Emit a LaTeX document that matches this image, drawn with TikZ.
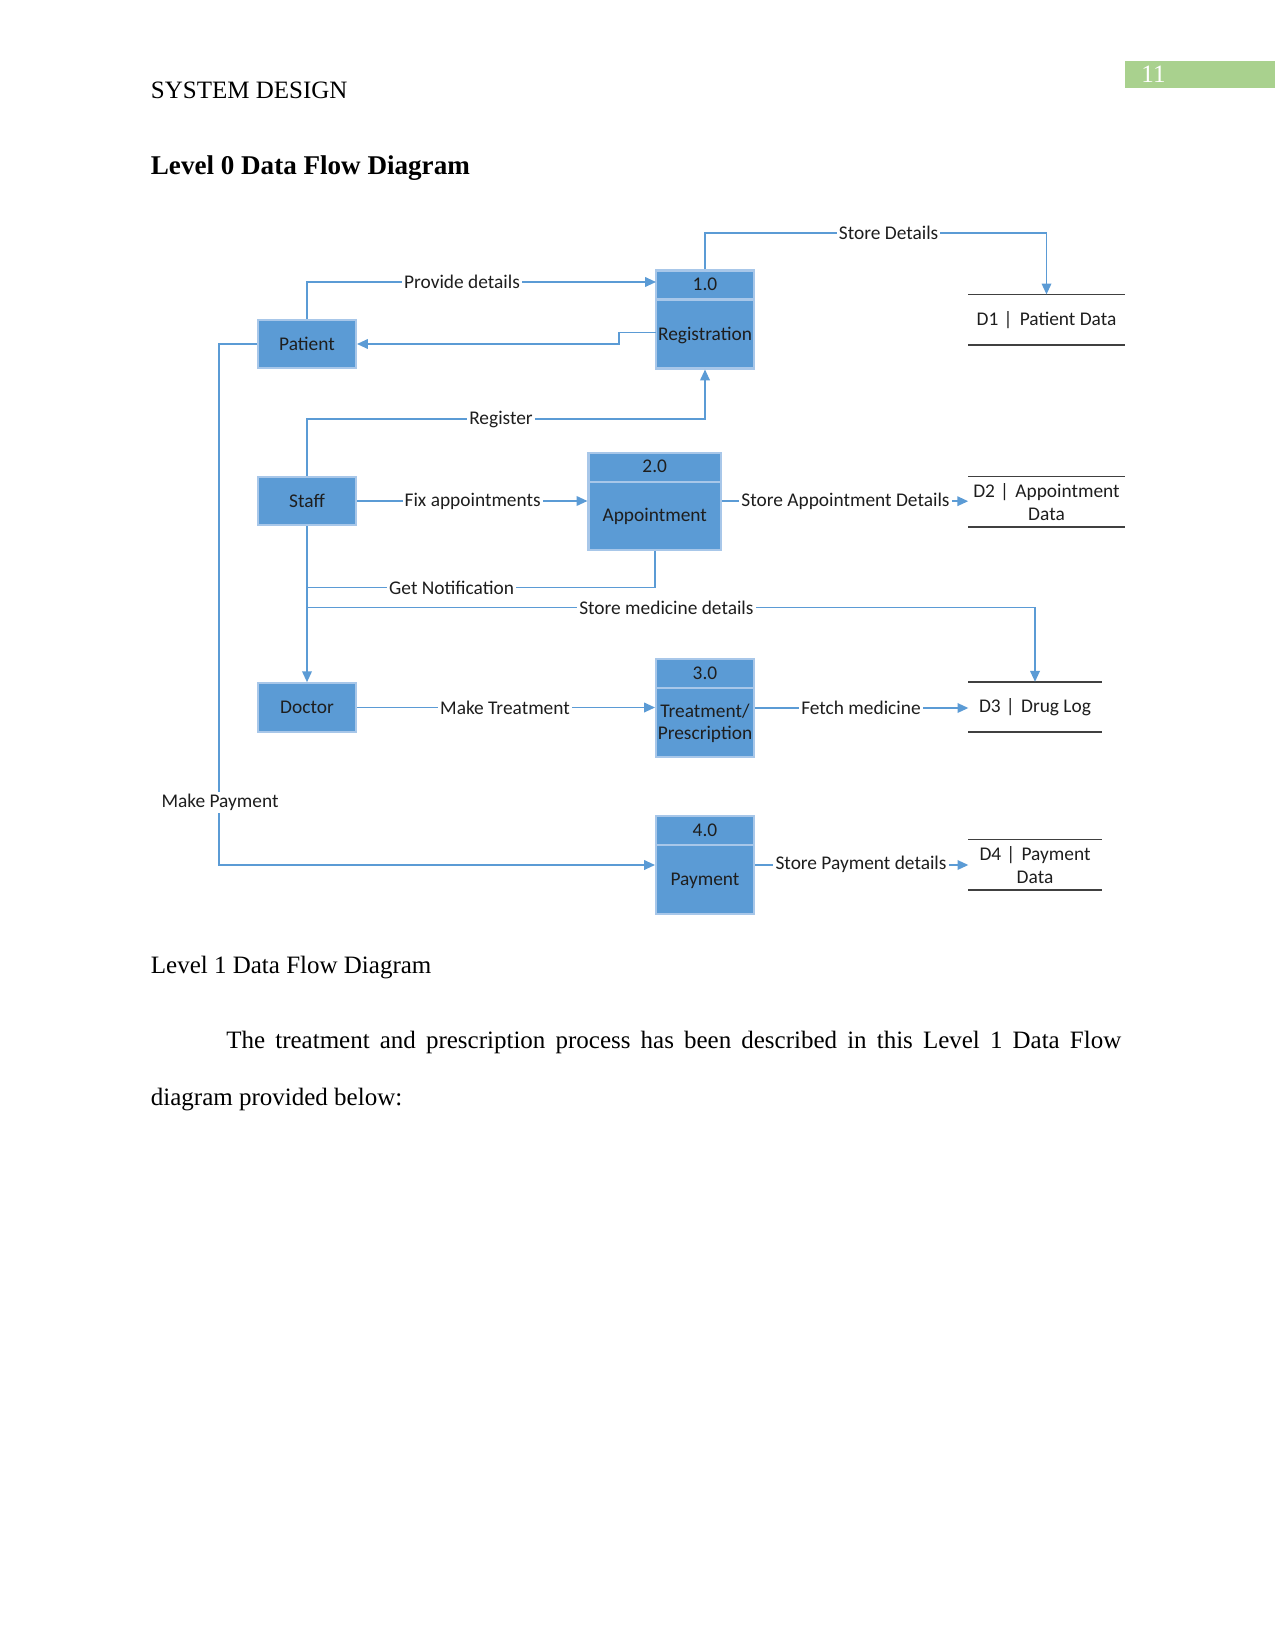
\documentclass[tikz,border=0pt]{standalone}
\usepackage{fontspec}
\setmainfont{Liberation Serif}
\newfontfamily\dfd{Carlito}
\usetikzlibrary{arrows.meta,calc}
\definecolor{boxblue}{HTML}{5B9BD5}
\definecolor{boxedge}{HTML}{A8C7E9}
\definecolor{flowblue}{HTML}{5B9BD5}
\definecolor{pagegreen}{HTML}{A9D18E}
\definecolor{txt}{HTML}{1E1E1E}
\begin{document}
\begin{tikzpicture}[x=0.48pt,y=-0.48pt,
  dfont/.style={font=\dfd\fontsize{9.3}{11}\selectfont, text=txt},
  proc/.style={fill=boxblue, draw=boxedge, line width=1pt, inner sep=0pt},
  ent/.style={proc, dfont, minimum width=47pt, minimum height=23.3pt},
  ptext/.style={dfont, inner sep=0pt, align=center},
  divider/.style={draw=boxedge, line width=1pt},
  flow/.style={draw=flowblue, line width=0.75pt},
  arr/.style={flow, -{Triangle[length=5.2pt,width=4.6pt]}},
  lbl/.style={dfont, fill=white, inner sep=1pt},
  store/.style={dfont, inner sep=0pt, align=center, minimum height=23.8pt},
  storeline/.style={draw=black!75, line width=0.7pt},
  serif/.style={inner sep=0pt, anchor=base west, font=\fontsize{12}{14}\selectfont}
]
\useasboundingbox (0,0) rectangle (1275,1651);
\fill[white] (0,0) rectangle (1275,1651);

% page header
\node[serif] (hdr) at (150.5,98.3) {SYSTEM DESIGN};
\fill[pagegreen] (1125,61) rectangle (1275,88.5);
\node[serif, text=white] (pg) at (1141,82.5) {11};
\node[serif, font=\fontsize{13}{15}\selectfont\bfseries] (title) at (150.5,175) {Level 0 Data Flow Diagram};

% external entities
\node[ent] (patient) at (307,344) {Patient};
\node[ent] (staff) at (307,501) {Staff};
\node[ent] (doctor) at (307,707.5) {Doctor};

% processes
\node[proc, minimum width=47pt, minimum height=47pt] (reg) at (705,319.5) {};
\node[proc, minimum width=63.6pt, minimum height=46.6pt] (appt) at (654.75,501.2) {};
\node[proc, minimum width=47pt, minimum height=47pt] (treat) at (705,708) {};
\node[proc, minimum width=47pt, minimum height=47pt] (pay) at (705,865) {};
\foreach \p in {reg,appt,treat,pay}{
  \draw[divider] ($(\p.north west)+(0,30)$) -- ($(\p.north east)+(0,30)$);
}
\node[ptext] (reg-id) at ($(reg.north)+(0,15)$) {1.0};
\node[ptext] (reg-nm) at ($(reg.south)+(0,-34)$) {Registration};
\node[ptext] (appt-id) at ($(appt.north)+(0,15)$) {2.0};
\node[ptext] (appt-nm) at ($(appt.south)+(0,-34)$) {Appointment};
\node[ptext] (treat-id) at ($(treat.north)+(0,15)$) {3.0};
\node[ptext, font=\dfd\fontsize{9.3}{10.6}\selectfont] (treat-nm) at ($(treat.south)+(0,-34.5)$) {Treatment/\\Prescription};
\node[ptext] (pay-id) at ($(pay.north)+(0,15)$) {4.0};
\node[ptext] (pay-nm) at ($(pay.south)+(0,-34.5)$) {Payment};

% data stores
\node[store, minimum width=74.8pt] (d1) at (1046.5,319.6) {D1\hspace{2.5pt}|\hspace{3.5pt}Patient Data};
\node[store, minimum width=74.8pt] (d2) at (1046.5,501.7) {\raisebox{0pt}{D2\hspace{2.5pt}|\hspace{3pt}Appointment}\\Data};
\node[store, minimum width=63.6pt] (d3) at (1035,707) {D3\hspace{2.5pt}|\hspace{3pt}Drug Log};
\node[store, minimum width=63.6pt] (d4) at (1035,864.8) {D4\hspace{2.5pt}|\hspace{3pt}Payment\\Data};
\foreach \s in {d1,d2,d3,d4}{
  \draw[storeline] (\s.north west) -- (\s.north east);
  \draw[storeline] (\s.south west) -- (\s.south east);
}

% helper coordinates
\coordinate (pdin) at (656,282);
\coordinate (sdc) at (1046.5,233);
\coordinate (rgout) at (656,332.7);
\coordinate (regc) at (705,419);
\coordinate (gn) at (307,587.5);
\coordinate (sm) at (307,607.5);

% flows
\draw[arr] (patient.north) |- (pdin);
\draw[arr] (reg.north) |- (sdc) -- (d1.north);
\draw[arr] (rgout) -- ++(-37,0) |- (patient.east);
\draw[arr] (staff.north) |- (regc) -- (reg.south);
\draw[arr] (staff.east) -- (staff.east -| appt.west);
\draw[arr] (appt.east) -- (appt.east -| d2.west);
\draw[flow] (appt.south) |- (gn);
\draw[arr] (sm) -| (d3.north);
\draw[arr] (staff.south) -- (doctor.north);
\draw[arr] (doctor.east) -- (doctor.east -| treat.west);
\draw[arr] (treat.east) -- (treat.east -| d3.west);
\draw[arr] (patient.west) -- ++(-38,0) |- (pay.west);
\draw[arr] (pay.east) -- (pay.east -| d4.west);

% flow labels
\node[lbl] (l-pd) at (462,282) {Provide details};
\node[lbl] (l-sd) at (888.6,233) {Store Details};
\node[lbl] (l-rg) at (501,419) {Register};
\node[lbl] (l-fa) at (472.7,501) {Fix appointments};
\node[lbl] (l-sa) at (845.5,501) {Store Appointment Details};
\node[lbl] (l-gn) at (451.6,587.5) {Get Notification};
\node[lbl] (l-sm) at (666.4,607.5) {Store medicine details};
\node[lbl] (l-mt) at (505,707.5) {Make Treatment};
\node[lbl] (l-fm) at (861,707.5) {Fetch medicine};
\node[lbl] (l-sp) at (861,864) {Store Payment details};
\node[lbl] (l-mp) at (220,802.5) {Make Payment};

% text below
\node[serif] (lvl1) at (150.5,973.3) {Level 1 Data Flow Diagram};
\node[serif] (para1) at (226,1048.3) {\makebox[429.5pt][s]{The treatment and prescription process has been described in this Level 1 Data Flow}};
\node[serif] (para2) at (150.5,1105.7) {diagram provided below:};
\end{tikzpicture}
\end{document}
